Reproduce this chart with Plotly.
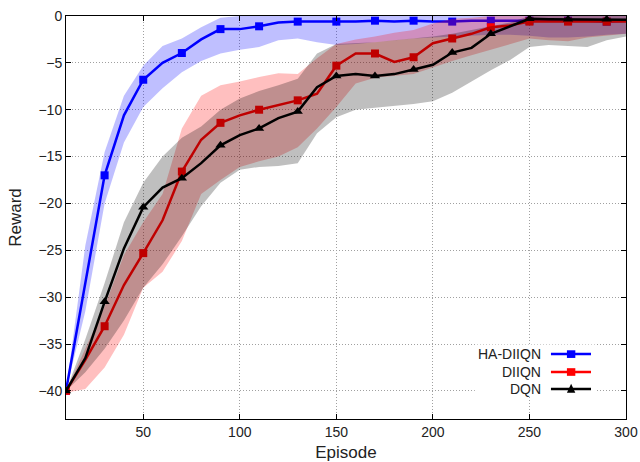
import plotly.graph_objects as go

episodes = [10, 20, 30, 40, 50, 60, 70, 80, 90, 100, 110, 120, 130, 140, 150,
            160, 170, 180, 190, 200, 210, 220, 230, 240, 250, 260, 270, 280, 290, 300]

# HA-DIIQN
ha_mean = [-40, -28.5, -17.0, -10.6, -6.8, -5.0, -3.95, -2.5, -1.4, -1.4, -1.1, -0.7, -0.6, -0.6, -0.6,
           -0.6, -0.5, -0.6, -0.5, -0.6, -0.6, -0.5, -0.5, -0.5, -0.5, -0.5, -0.5, -0.5, -0.6, -0.5]
ha_upper = [-40, -24.5, -14.5, -8.5, -5.3, -3.2, -2.4, -1.2, -0.2, 0, 0, 0, 0, 0, 0,
            0, 0, 0, 0, 0, 0, 0, 0, 0, 0, 0, 0, 0, 0, 0]
ha_lower = [-40, -31.5, -20.0, -13.5, -9.7, -7.7, -6.0, -4.8, -4.0, -3.6, -3.3, -2.6, -2.4, -2.8, -3.1,
            -3.0, -2.8, -2.6, -2.4, -2.3, -2.2, -2.1, -2.0, -2.0, -2.1, -2.3, -2.3, -2.2, -2.0, -1.9]

# DIIQN
di_mean = [-40, -36.7, -33.1, -28.7, -25.3, -21.8, -16.6, -13.2, -11.4, -10.6, -10.0, -9.5, -9.0, -8.3, -5.3,
           -4.0, -4.0, -4.9, -4.4, -2.9, -2.4, -1.9, -1.2, -1.0, -0.6, -0.6, -0.6, -0.6, -0.6, -0.6]
di_upper = [-40, -35.5, -31.0, -25.5, -22.0, -19.0, -12.0, -8.5, -7.4, -7.0, -6.5, -6.1, -6.2, -4.5, -3.0,
            -2.5, -2.2, -1.8, -1.5, -0.8, -0.3, -0.2, 0, 0, 0, 0, 0, 0, 0, 0]
di_lower = [-40.2, -39.8, -37.5, -34.0, -29.0, -27.3, -24.0, -19.0, -17.5, -16.1, -15.5, -15.0, -14.0, -12.0, -9.7,
            -7.2, -6.6, -6.4, -6.2, -5.5, -4.8, -4.2, -3.6, -3.0, -2.4, -2.6, -2.7, -2.3, -2.1, -1.9]

# DQN
dq_mean = [-40, -36.5, -30.5, -24.8, -20.4, -18.3, -17.3, -15.7, -13.8, -12.7, -12.0, -10.9, -10.2, -7.6, -6.4,
           -6.2, -6.4, -6.2, -5.7, -5.2, -3.9, -3.4, -1.9, -1.1, -0.3, -0.35, -0.35, -0.4, -0.35, -0.4]
dq_upper = [-40, -34.5, -28.5, -22.0, -17.8, -15.0, -13.0, -11.8, -10.0, -8.8, -8.0, -7.4, -6.7, -4.0, -3.0,
            -2.9, -2.8, -2.6, -2.4, -2.2, -1.9, -1.5, -1.1, -0.7, 0, 0, 0, 0, 0, 0]
dq_lower = [-40, -38.0, -35.5, -32.5, -29.0, -26.5, -23.5, -20.3, -17.8, -16.4, -16.1, -16.0, -15.7, -12.5, -10.8,
            -10.0, -9.8, -9.6, -9.4, -9.1, -8.2, -7.0, -5.8, -4.7, -3.3, -3.1, -3.2, -3.3, -2.6, -2.2]

x_ticks = [50, 100, 150, 200, 250, 300]
y_ticks = [0, -5, -10, -15, -20, -25, -30, -35, -40]
names = ['HA-DIIQN', 'DIIQN', 'DQN']

series = [
    (ha_mean, ha_upper, ha_lower, '#0000ff', 'rgba(0,0,255,0.25)', 'square'),
    (di_mean, di_upper, di_lower, '#ff0000', 'rgba(255,0,0,0.25)', 'square'),
    (dq_mean, dq_upper, dq_lower, '#000000', 'rgba(0,0,0,0.25)', 'triangle-up'),
]

fig = go.Figure()

# band then line, series by series (later bands tint earlier lines)
for name, (mean, upper, lower, col, fill, sym) in zip(names, series):
    fig.add_trace(go.Scatter(x=episodes, y=upper, mode='lines', line=dict(width=0),
                             showlegend=False, hoverinfo='skip'))
    fig.add_trace(go.Scatter(x=episodes, y=lower, mode='lines', line=dict(width=0),
                             fill='tonexty', fillcolor=fill, showlegend=False, hoverinfo='skip'))
    fig.add_trace(go.Scatter(x=episodes, y=mean, mode='lines', line=dict(color=col, width=2.5),
                             showlegend=False, name=name))
    fig.add_trace(go.Scatter(x=episodes[::2], y=mean[::2], mode='markers',
                             marker=dict(color=col, symbol=sym, size=9 if sym != 'square' else 8),
                             showlegend=False, hoverinfo='skip'))

# gnuplot style key: text on the left, sample on the right
shapes = [dict(type='rect', xref='paper', yref='paper', x0=0.73, x1=0.945, y0=0.055, y1=0.185,
               fillcolor='white', line=dict(width=0), layer='above')]
annotations = []
rows = [0.161, 0.1166, 0.0744]
for name, row, (mean, upper, lower, col, fill, sym) in zip(names, rows, series):
    annotations.append(dict(x=0.852, y=row, xref='paper', yref='paper', text=name, showarrow=False,
                            xanchor='right', yanchor='middle', font=dict(size=14, color='#222')))
    shapes.append(dict(type='line', xref='paper', yref='paper', x0=0.866, x1=0.9375, y0=row, y1=row,
                       line=dict(color=col, width=2.5), layer='above'))
    if sym == 'square':
        shapes.append(dict(type='rect', xref='paper', yref='paper', x0=0.8945, x1=0.9095,
                           y0=row - 0.0095, y1=row + 0.0095, fillcolor=col, line=dict(width=0),
                           layer='above'))
    else:
        shapes.append(dict(type='path', xref='paper', yref='paper',
                           path=f'M 0.8945 {row - 0.009} L 0.9095 {row - 0.009} L 0.902 {row + 0.013} Z',
                           fillcolor=col, line=dict(width=0), layer='above'))

fig.update_layout(
    width=640, height=462,
    margin=dict(l=66, r=14, t=16, b=43),
    paper_bgcolor='white', plot_bgcolor='white',
    font=dict(family='Liberation Sans', size=14, color='#222'),
    showlegend=False,
    shapes=shapes,
    annotations=annotations,
)
fig.update_xaxes(range=[10, 300], tickvals=x_ticks, showline=True, linecolor='black', linewidth=1,
                 mirror='ticks', ticks='inside', ticklen=5, tickcolor='black',
                 showgrid=True, gridcolor='#a0a0a0', griddash='1px,2px', gridwidth=1, zeroline=False,
                 automargin=False, title=dict(text='Episode', standoff=7))
fig.update_yaxes(range=[-43, 0], tickvals=y_ticks, showline=True, linecolor='black', linewidth=1,
                 mirror='ticks', ticks='inside', ticklen=5, tickcolor='black',
                 showgrid=True, gridcolor='#a0a0a0', griddash='1px,2px', gridwidth=1, zeroline=False,
                 automargin=False, title=dict(text='Reward', standoff=12))

fig.write_html("out.html", config={'displayModeBar': False},
               post_script="document.body.style.margin='0';")
